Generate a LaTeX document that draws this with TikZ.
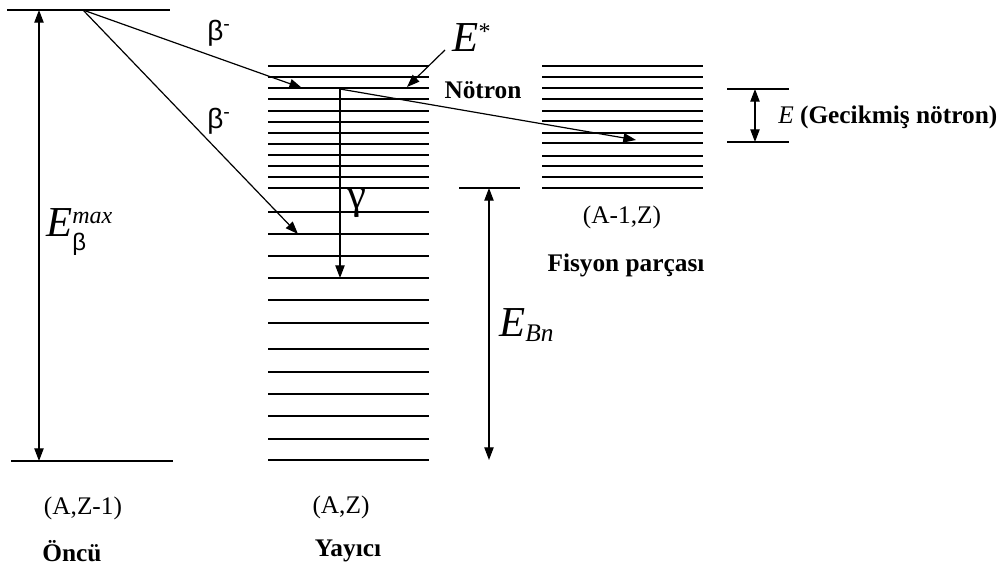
\documentclass[tikz,border=0pt]{standalone}
\usepackage{fontspec}
\setmainfont{Liberation Serif}
\newfontfamily\grk{Liberation Sans}
\usetikzlibrary{arrows.meta, positioning, calc}

\begin{document}
\begin{tikzpicture}[x=0.75pt, y=-0.75pt,
    level/.style={line width=1pt},
    tip/.style={-{Triangle[length=9.5pt,width=7pt]}, line width=0.9pt},
    both/.style={{Triangle[length=9.5pt,width=7pt]}-{Triangle[length=9.5pt,width=7pt]}, line width=0.9pt},
    lbl/.style={inner sep=0pt, font=\fontsize{19}{22}\selectfont},
    blbl/.style={inner sep=0pt, font=\fontsize{19}{22}\selectfont\bfseries},
    bigE/.style={inner sep=0pt, font=\fontsize{32}{36}\selectfont\itshape}]
\useasboundingbox (0,0) rectangle (1001,567);
% Precursor (A,Z-1)
\draw[level] (7,10) -- (170,10);
\draw[level] (11,461) -- (173,461);
% Emitter (A,Z): dense levels, then sparse ones
\foreach \y in {66,77,88,99,111,122,133,144,155,166,177,188} {
    \draw[level] (268,\y) -- (429,\y);
}
\foreach \y in {212,234,256,278,300,323,349,372,394,416,439,460} {
    \draw[level] (268,\y) -- (429,\y);
}
% Fission fragment (A-1,Z)
\foreach \y in {66,77,88,99,111,121,133,143,156,166,177,188} {
    \draw[level] (542,\y) -- (703,\y);
}
% Energy gaps
\draw[level] (727,89) -- (789,89);
\draw[level] (727,142) -- (789,142);
\draw[level] (459,188) -- (520,188);
% Named end points
\coordinate (top) at (83,10);
\coordinate (bA) at (302,88);
\coordinate (bB) at (298,234);
\coordinate (gA) at (340,89);
\coordinate (gB) at (340,278);
\coordinate (nB) at (636,140);
\coordinate (estarT) at (407,87);
\coordinate (estarS) at (445,50);
\coordinate (maxA) at (39,10);
\coordinate (maxB) at (39,461);
\coordinate (gapA) at (755,89);
\coordinate (gapB) at (755,142);
\coordinate (bnA) at (489,188);
\coordinate (bnB) at (489,460);
% Transitions
\draw[tip] (top) -- (bA);
\draw[tip] (top) -- (bB);
\draw[tip] (gA) -- (gB);
\draw[tip] (gA) -- (nB);
\draw[tip] (estarS) -- (estarT);
\draw[both] (maxA) -- (maxB);
\draw[both] (gapA) -- (gapB);
\draw[both] (bnA) -- (bnB);
% Labels
\node[lbl, font=\fontsize{21}{24}\selectfont] (betaA) at (219,33) {\grk β\textsuperscript{-}};
\node[lbl, font=\fontsize{21}{24}\selectfont] (betaB) at (219,121) {\grk β\textsuperscript{-}};
\node[lbl, font=\fontsize{32}{36}\selectfont] (gam) at (357,203) {γ};
\node[bigE] (estar) at (472,38) {E\textsuperscript{\upshape\fontsize{18}{20}\selectfont *}};
\node[blbl] (notron) at (483,90) {Nötron};
\node[bigE, anchor=west] (emax) at (46,232) {E$^{\raisebox{1pt}{\itshape\fontsize{18}{19}\selectfont max}}_{\raisebox{-4pt}{\grk\upshape\fontsize{18}{19}\selectfont β}}$};
\node[bigE, anchor=west] (ebn) at (499,325) {E$_{\mbox{\itshape\fontsize{19}{20}\selectfont Bn}}$};
\node[lbl, anchor=west] (egap) at (778,117) {\textit{E} \bfseries (Gecikmiş nötron)};
\node[lbl] (fragAZ) at (622,217) {(A-1,Z)};
\node[blbl] (frag) at (626,265) {Fisyon parçası};
\node[lbl] (precAZ) at (83,508) {(A,Z-1)};
\node[blbl] (prec) at (72,551) {Öncü};
\node[lbl] (emitAZ) at (341,507) {(A,Z)};
\node[blbl] (emit) at (348,551) {Yayıcı};
\end{tikzpicture}
\end{document}
